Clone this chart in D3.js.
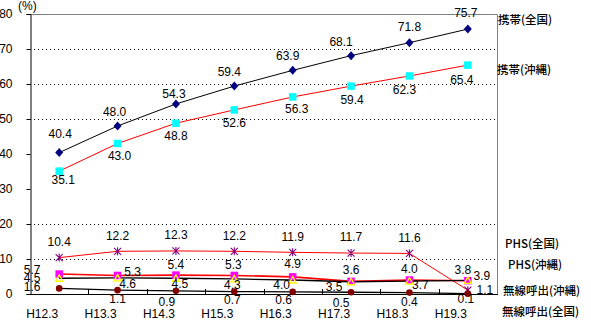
<!DOCTYPE html>
<html>
<head>
<meta charset="utf-8">
<script src="https://cdn.jsdelivr.net/npm/d3@7"></script>
<style>
  html, body { margin: 0; padding: 0; background: #fff; }
  svg { display: block; }
  text { font-family: "Liberation Sans", Arial, sans-serif; font-size: 12px; fill: #000; }
  .jp { font-family: "Noto Sans CJK JP", sans-serif; font-size: 11.5px; font-weight: 500; }
</style>
</head>
<body>
<svg id="chart" width="591" height="323"></svg>
<script>
// Categories (fiscal year-end) and the share of subscriptions per population (%)
const categories = ["H12.3", "H13.3", "H14.3", "H15.3", "H16.3", "H17.3", "H18.3", "H19.3"];

const keitaiZenkoku = [40.4, 48.0, 54.3, 59.4, 63.9, 68.1, 71.8, 75.7];   // 携帯(全国)
const keitaiOkinawa = [35.1, 43.0, 48.8, 52.6, 56.3, 59.4, 62.3, 65.4];   // 携帯(沖縄)
const phsZenkoku    = [10.4, 12.2, 12.3, 12.2, 11.9, 11.7, 11.6, 1.1];    // PHS(全国)
const phsOkinawa    = [5.7, 5.3, 5.4, 5.3, 4.9, 3.6, 4.0, 3.8];           // PHS(沖縄)
const pagerOkinawa  = [4.5, 4.6, 4.5, 4.3, 4.0, 3.5, 3.7, 3.9];           // 無線呼出(沖縄)
const pagerZenkoku  = [1.6, 1.1, 0.9, 0.7, 0.6, 0.5, 0.4, 0.1];           // 無線呼出(全国)

const seriesNames = ["携帯(全国)", "携帯(沖縄)", "PHS(全国)", "PHS(沖縄)", "無線呼出(沖縄)", "無線呼出(全国)"];
const yTicks = [0, 10, 20, 30, 40, 50, 60, 70, 80];
const gridTicks = [10, 20, 50, 60, 70];

// ---- layout ----
const svg = d3.select("#chart");
const plot = { left: 30, right: 497, top: 14, bottom: 294 };

const x = d3.scaleBand().domain(categories).range([plot.left, plot.right]);
const y = d3.scaleLinear().domain([0, 80]).range([plot.bottom, plot.top]);
const cx = c => x(c) + x.bandwidth() / 2;

// value-label nudges [dx, dy] relative to each point
const labelNudge = {
  kz: [[1,-19],[-3,-14],[-2,-10],[-5,-14],[-5,-15],[-10,-14],[0,-16],[-2,-16]],
  ko: [[4,9],[2,12],[0,12],[0,13],[4,12],[1,14],[-5,14],[-6,15]],
  pz: [[0,-16],[0,-16],[0,-16],[0,-16],[0,-16],[0,-16],[0,-16],[17,0]],
  po: [[-27,-4],[15,-4],[0,-10],[-1,-11],[0,-13],[0,-12],[0,-11],[-5,-11]],
  wo: [[-27,-1],[10,6],[4,5],[-2,6],[-11,5],[-17,5],[11,4],[14,-5]],
  wz: [[-27,-2],[0,9],[-9,11],[-2,8],[-9,8],[-10,10],[0,9],[-2,5]]
};

// gridlines (dotted)
svg.append("g").selectAll("line").data(gridTicks).join("line")
  .attr("x1", plot.left).attr("x2", plot.right)
  .attr("y1", d => Math.round(y(d)) + 0.5).attr("y2", d => Math.round(y(d)) + 0.5)
  .attr("stroke", "#000").attr("stroke-width", 1).attr("stroke-dasharray", "1,3");

// top and right frame
svg.append("path")
  .attr("d", `M${plot.left},${plot.top + 0.5}H${plot.right + 0.5}V${plot.bottom}`)
  .attr("fill", "none").attr("stroke", "#808080").attr("stroke-width", 1);

// y axis
const yAxis = d3.axisLeft(y).tickValues(yTicks).tickSize(4).tickPadding(14).tickFormat(d3.format("d"));
const gy = svg.append("g").attr("transform", `translate(${plot.left + 0.5},0)`).call(yAxis);
gy.select(".domain").attr("stroke", "#000");
gy.selectAll(".tick line").attr("stroke", "#000");
gy.selectAll("text").style("font-family", "Liberation Sans, Arial, sans-serif").style("font-size", "12px").attr("fill", "#000");

// x axis: baseline with ticks between categories
svg.append("line")
  .attr("x1", plot.left).attr("x2", plot.right + 1)
  .attr("y1", plot.bottom + 0.5).attr("y2", plot.bottom + 0.5)
  .attr("stroke", "#000");
svg.append("g").selectAll("line").data(categories.slice(1)).join("line")
  .attr("x1", d => Math.round(x(d)) + 0.5).attr("x2", d => Math.round(x(d)) + 0.5)
  .attr("y1", plot.bottom - 5).attr("y2", plot.bottom)
  .attr("stroke", "#000");
svg.append("g").selectAll("text").data(categories).join("text")
  .attr("x", d => cx(d) - 17).attr("y", 318)
  .attr("text-anchor", "middle")
  .text(d => d);

// unit label
svg.append("text").attr("x", 18).attr("y", 10).text("(%)");

// ---- series ----
const line = d3.line().x((d, i) => cx(categories[i])).y(d => y(d));

const series = [
  { key: "kz", values: keitaiZenkoku, stroke: "#000", width: 1, marker: "diamond", fill: "#000080" },
  { key: "ko", values: keitaiOkinawa, stroke: "#ff0000", width: 1, marker: "square", fill: "#00ffff" },
  { key: "pz", values: phsZenkoku, stroke: "#ff0000", width: 1, marker: "star", fill: "#800080" },
  { key: "po", values: phsOkinawa, stroke: "#ff0000", width: 1.6, marker: "square", fill: "#ff00ff" },
  { key: "wo", values: pagerOkinawa, stroke: "#000", width: 1.3, marker: "triangle", fill: "#ffff00" },
  { key: "wz", values: pagerZenkoku, stroke: "#000", width: 1.3, marker: "circle", fill: "#800000" }
];

const gLines = svg.append("g");
series.forEach(s => {
  gLines.append("path").datum(s.values)
    .attr("d", line).attr("fill", "none")
    .attr("stroke", s.stroke).attr("stroke-width", s.width);
});

function drawMarker(g, type, color, px, py) {
  if (type === "diamond") {
    g.append("path").attr("d", `M${px},${py - 4.5}L${px + 4},${py}L${px},${py + 4.5}L${px - 4},${py}Z`).attr("fill", color);
  } else if (type === "square") {
    g.append("rect").attr("x", px - 3.75).attr("y", py - 3.75).attr("width", 7.5).attr("height", 7.5).attr("fill", color);
  } else if (type === "triangle") {
    g.append("path").attr("d", `M${px},${py - 3.5}L${px + 3.5},${py + 3}L${px - 3.5},${py + 3}Z`)
      .attr("fill", "none").attr("stroke", color).attr("stroke-width", 1.3);
  } else if (type === "circle") {
    g.append("circle").attr("cx", px).attr("cy", py).attr("r", 3.3).attr("fill", color);
  } else if (type === "star") {
    const r = 3.5;
    g.append("path")
      .attr("d", `M${px - r},${py - r}L${px + r},${py + r}M${px - r},${py + r}L${px + r},${py - r}M${px},${py - r - 0.5}L${px},${py + r + 0.5}`)
      .attr("stroke", color).attr("stroke-width", 1.1).attr("fill", "none");
  }
}

const gMarks = svg.append("g");
series.forEach(s => {
  s.values.forEach((v, i) => drawMarker(gMarks, s.marker, s.fill, cx(categories[i]), y(v)));
});

// value labels
const gLabels = svg.append("g");
series.forEach(s => {
  gLabels.selectAll(null).data(s.values).join("text")
    .attr("x", (d, i) => cx(categories[i]) + labelNudge[s.key][i][0])
    .attr("y", (d, i) => y(d) + labelNudge[s.key][i][1])
    .attr("dy", "0.36em")
    .attr("text-anchor", "middle")
    .text(d => d.toFixed(1));
});

// series names at the right
const legendPos = [[498, 20], [497, 70], [505, 244], [508, 265], [503, 291], [502, 312]];
svg.append("g").selectAll("text").data(seriesNames).join("text")
  .attr("class", "jp")
  .attr("x", (d, i) => legendPos[i][0])
  .attr("y", (d, i) => legendPos[i][1])
  .attr("dy", "0.36em")
  .text(d => d);
</script>
</body>
</html>
